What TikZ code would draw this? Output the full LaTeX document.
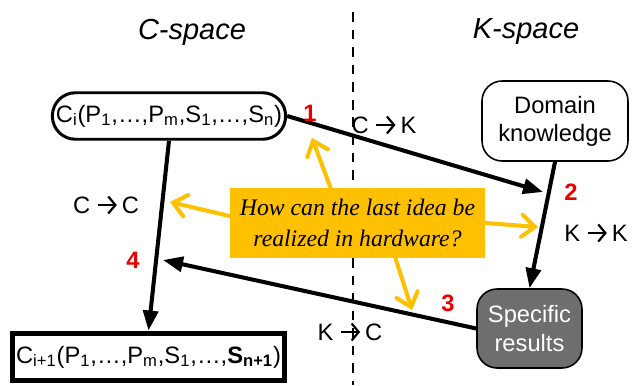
\documentclass[tikz,border=0pt]{standalone}
\usepackage{fontspec}
\setmainfont{Liberation Sans}
\newfontfamily\qfont{Liberation Serif}
\usetikzlibrary{arrows.meta,positioning,calc}
\definecolor{csedge}{RGB}{0,0,0}
\definecolor{csres}{RGB}{110,110,110}
\definecolor{csq}{RGB}{255,192,0}
\definecolor{csnum}{RGB}{235,0,0}
\newcommand{\labsize}{\fontsize{13.5}{16}\selectfont}
\newcommand{\toarr}{\tikz[baseline=0pt]\draw[line width=1.25pt,
  -{Straight Barb[length=0.3em,width=0.72em]}] (0,0.36em) -- (0.8em,0.36em);}
\tikzset{
  cbox/.style={
    draw=csedge, align=center, inner sep=2pt, font=\labsize
  },
  pill/.style={cbox, line width=1.7pt, rounded corners=0.46cm,
    minimum width=4.55cm, minimum height=0.93cm},
  know/.style={cbox, line width=0.9pt, rounded corners=0.4cm,
    minimum width=2.92cm, minimum height=1.6cm},
  result/.style={cbox, line width=0.9pt, fill=csres, text=white,
    rounded corners=0.4cm, minimum width=2.1cm, minimum height=1.58cm},
  nextc/.style={cbox, line width=3.4pt, minimum width=5.34cm, minimum height=0.94cm},
  quest/.style={fill=csq, align=center, inner sep=0pt,
    minimum width=5.1cm, minimum height=1.4cm,
    font=\qfont\itshape\fontsize{13.5}{18}\selectfont},
  arr/.style={-{Triangle[length=4mm,width=3mm]}, draw=csedge, line width=2.3pt},
  qarr/.style={-{Straight Barb[length=2.6mm,width=4.4mm,line cap=round]},
    draw=csq, line width=2.3pt, line cap=round},
  num/.style={font=\bfseries\labsize, text=csnum},
  lbl/.style={font=\labsize},
  ttl/.style={font=\itshape\fontsize{16.5}{19}\selectfont}
}
\begin{document}
\begin{tikzpicture}[x=0.02cm,y=-0.02cm]
  \useasboundingbox (0,0) rectangle (644,385);

  % the two spaces
  \node[ttl] (cspace) at (192,32) {C-space};
  \node[ttl] (kspace) at (526,32) {K-space};
  \coordinate (divtop) at (353,12);
  \coordinate (divbot) at (353,385);
  \draw[line width=0.9pt, dash pattern=on 5.5pt off 4.5pt] (divtop) -- (divbot);

  % concept and knowledge boxes
  \node[pill] (ci) at (169,116)
    {C\textsubscript{i}(P\textsubscript{1},…,P\textsubscript{m},S\textsubscript{1},…,S\textsubscript{n})};
  \node[know] (dk) at (555,121) {Domain\\knowledge};
  \node[result] (sr) at (529.5,328.5) {Specific\\results};
  \node[nextc] (cnext) at (148.5,357)
    {C\textsubscript{i+1}(P\textsubscript{1},…,P\textsubscript{m},S\textsubscript{1},…,\textbf{S\textsubscript{n+1}})};

  % question in the middle
  \node[quest] (q) at (357.5,223) {How can the last idea be\\realized in hardware?};

  % arrow ends on the other lines
  \coordinate (k2) at (543,192);
  \coordinate (k4) at (163,260);
  \coordinate (y1) at (312,138);
  \coordinate (y2) at (170,202);
  \coordinate (y3) at (538,227);
  \coordinate (y4) at (412,310);

  \draw[arr] (ci.south) -- (cnext.north);
  \draw[arr] (ci.east) -- (k2);
  \draw[arr] (dk.south) -- (sr.north);
  \draw[arr] (sr.west) -- (k4);

  \draw[qarr] ($(q.north)+(-27,0)$) -- (y1);
  \draw[qarr] ($(q.west)+(0,-7)$) -- (y2);
  \draw[qarr] (q.east) -- (y3);
  \draw[qarr] ($(q.south)+(38,0)$) -- (y4);

  % step numbers and transitions
  \node[num] (n1) at (310,113) {1};
  \node[num] (n2) at (571,192) {2};
  \node[num] (n3) at (448,303) {3};
  \node[num] (n4) at (133,260) {4};
  \node[lbl] (ck) at (384,125) {C \toarr\,K};
  \node[lbl] (cc) at (106,205) {C \toarr\,C};
  \node[lbl] (kk) at (596,233) {K \toarr\,K};
  \node[lbl] (kc) at (350,332) {K \toarr\,C};
\end{tikzpicture}
\end{document}
